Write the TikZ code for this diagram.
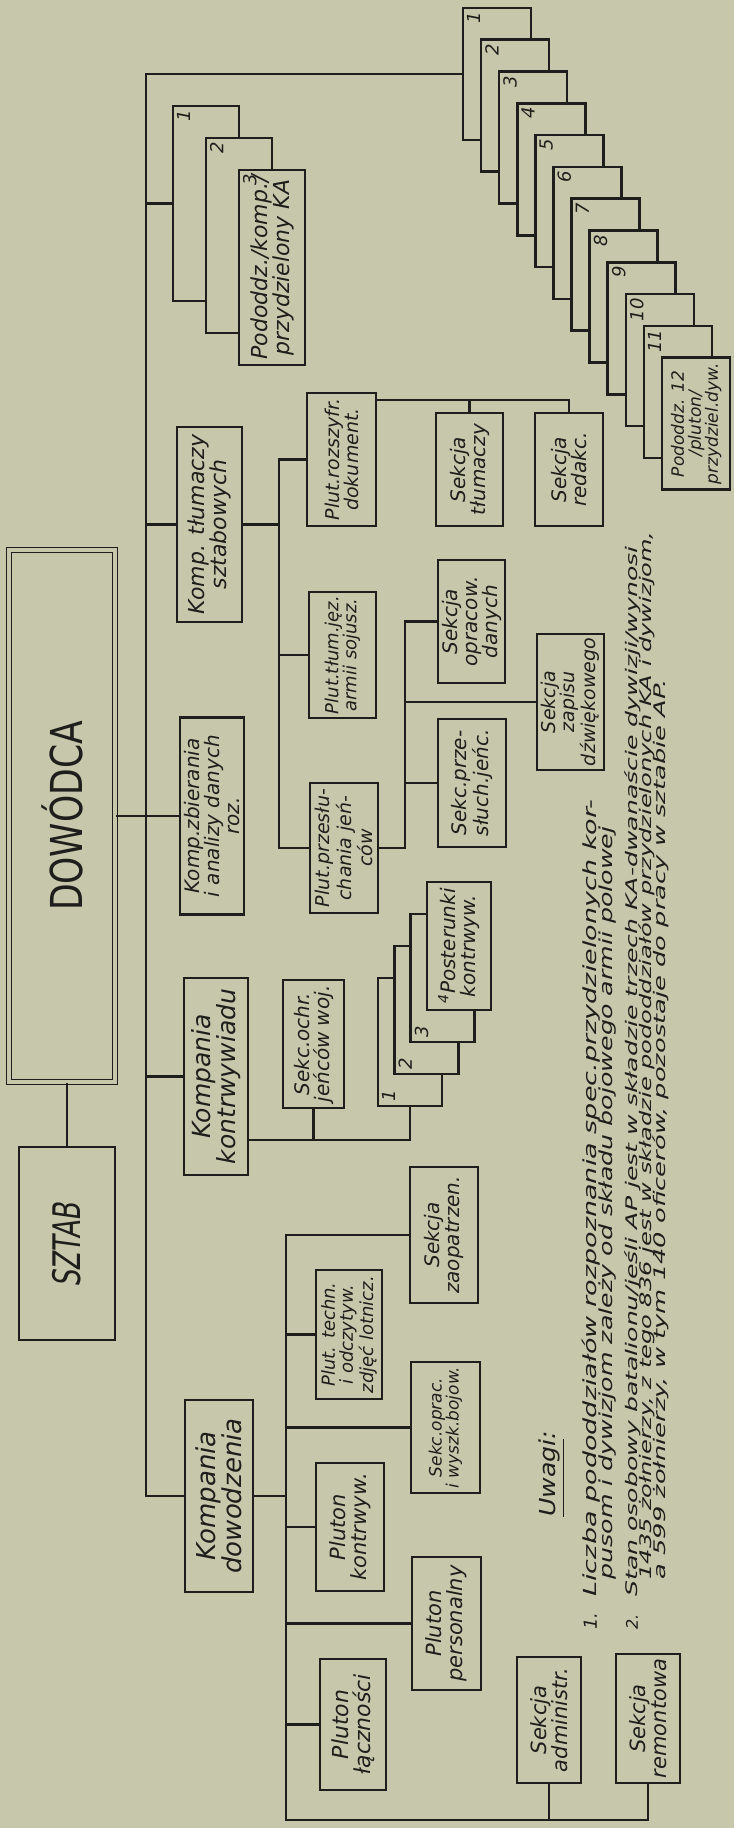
\documentclass[tikz,border=0pt]{standalone}
\usepackage{fontspec}
\setmainfont{DejaVu Sans}
\usepackage{graphicx}
\definecolor{paper}{RGB}{199,200,171}
\definecolor{ink}{RGB}{30,30,28}

\begin{document}
\begin{tikzpicture}[
    x=0.5pt, y=0.5pt, rotate=90, transform shape,
    box/.style={draw=ink, line width=1.3pt, fill=paper, text=ink, inner sep=1pt, align=center},
    sz/.style 2 args={minimum width=#1*0.5pt, minimum height=#2*0.5pt},
    fsz/.style={font=\itshape\fontsize{#1}{#1}\selectfont},
    link/.style={draw=ink, line width=1.3pt},
    num/.style={text=ink, inner sep=2.5pt, font=\itshape\fontsize{9}{9}\selectfont},
    note/.style={text=ink, inner sep=0pt, anchor=base west}
    ]

    \useasboundingbox (0,0) rectangle (1828,734);
    \fill[paper] (0,0) rectangle (1828,734);

    \node[box, sz={532}{106}, double=paper, line width=0.9pt, double distance=1.6pt,
      font=\fontsize{22}{22}\selectfont] (dow) at (1012,672) {\resizebox{95pt}{\height}{DOWÓDCA}};
    \node[box, sz={193}{96}, fsz=19] (sztab) at (584.5,667) {\resizebox{42.5pt}{\height}{SZTAB}};

    \node[box, sz={192}{68}, fsz=13] (kdow) at (332,515) {Kompania\\dowodzenia};
    \node[box, sz={197}{64}, fsz=12.5] (kont) at (751.5,518) {Kompania\\kontrwywiadu};
    \node[box, sz={197}{64}, fsz=10] (zbier) at (1012,522) {Komp.zbierania\\i analizy danych\\roz.};
    \node[box, sz={195}{65}, fsz=11] (tlum) at (1303.5,524.5) {Komp. tłumaczy\\sztabowych};

    \foreach \k in {1,2} {
      \node[box, sz={195}{66}] (pod\k) at ({1656.5-32*\k},{561-33*\k}) {};
      \node[num, anchor=north east] (podn\k) at (pod\k.north east) {\k};
    }
    \node[box, sz={195}{66}, fsz=11] (pod3) at (1560.5,462) {Pododdz./komp./\\przydzielony KA};
    \node[num, anchor=north east] (podn3) at (pod3.north east) {3};

    \foreach \k in {1,...,11} {
      \node[box, sz={132}{68}] (kart\k) at ({1754-31.8*(\k-1)},{237-18.1*(\k-1)}) {};
      \node[num, anchor=north east] (kartn\k) at (kart\k.north east) {\k};
    }
    \node[box, sz={132}{68}, fsz=8.5] (kart12) at (1404.2,37.9) {Pododdz. 12\\/pluton/\\przydziel.dyw.};

    \node[box, sz={133}{69}, fsz=9.5] (rozs) at (1368.5,392.5) {Plut.rozszyfr.\\dokument.};
    \node[box, sz={126}{67}, fsz=9] (tjez) at (1173,391.5) {Plut.tłum.jęz.\\armii sojusz.};
    \node[box, sz={130}{68}, fsz=9.5] (przes) at (980,390) {Plut.przesłu-\\chania jeń-\\ców};
    \node[box, sz={113}{67}, fsz=10] (stlum) at (1358.5,264.5) {Sekcja\\tłumaczy};
    \node[box, sz={113}{68}, fsz=10] (sred) at (1358.5,165) {Sekcja\\redakc.};
    \node[box, sz={123}{67}, fsz=10] (sopr) at (1206.5,262.5) {Sekcja\\opracow.\\danych};
    \node[box, sz={136}{67}, fsz=9.5] (szap) at (1126,163.5) {Sekcja\\zapisu\\dźwiękowego};
    \node[box, sz={128}{68}, fsz=10] (sprze) at (1045,262) {Sekc.prze-\\słuch.jeńc.};

    \node[box, sz={128}{61}, fsz=10] (ochr) at (784,420.5) {Sekc.ochr.\\jeńców woj.};
    \foreach \k in {1,2,3} {
      \node[box, sz={128}{64}] (post\k) at ({754+32*\k},{340.3-16.3*\k}) {};
      \node[num, anchor=north west] (postn\k) at (post\k.north west) {\k};
    }
    \node[box, sz={128}{64}, fsz=10] (post4) at (882,275.1) {\textsuperscript{4}Posterunki\\kontrwyw.};

    \node[box, sz={136}{68}, fsz=10] (zaop) at (593,290) {Sekcja\\zaopatrzen.};
    \node[box, sz={129}{66}, fsz=9] (techn) at (493.5,385) {Plut. techn.\\i odczytyw.\\zdjęć lotnicz.};
    \node[box, sz={131}{69}, fsz=8.5] (soprb) at (400.5,288.5) {Sekc.oprac.\\i wyszk.bojow.};
    \node[box, sz={128}{68}, fsz=10.5] (pkon) at (301,384) {Pluton\\kontrwyw.};
    \node[box, sz={133}{69}, fsz=10.5] (pper) at (204.5,287.5) {Pluton\\personalny};
    \node[box, sz={131}{66}, fsz=11] (plac) at (103.5,381) {Pluton\\łączności};
    \node[box, sz={126}{64}, fsz=10.5] (sadm) at (108,185) {Sekcja\\administr.};
    \node[box, sz={129}{64}, fsz=10.5] (srem) at (109.5,86) {Sekcja\\remontowa};

    \coordinate (spine) at (0,588);
    \draw[link] (kdow.north) |- (spine -| kart1.north) -- (kart1.north);
    \foreach \b in {kont,zbier,tlum,pod1}
      \draw[link] (\b.north) -- (\b.north |- spine);
    \draw[link] (dow.south) -- (zbier.north);
    \draw[link] (sztab.east) -- (sztab.east -| dow.west);

    \coordinate (tbar) at (0,455);
    \draw[link] (tlum.south) -- (tlum.south |- tbar);
    \draw[link] (rozs.north) |- (przes.north |- tbar) -- (przes.north);
    \draw[link] (tjez.north) -- (tjez.north |- tbar);
    \coordinate (rline) at (1428,0);
    \draw[link] (rline |- rozs.south) |- (sred.east);
    \draw[link] (rline |- stlum.east) -- (stlum.east);
    \coordinate (pbar) at (0,329);
    \draw[link] (przes.south) |- (sopr.north |- pbar) -- (sopr.north);
    \foreach \b in {sprze,szap}
      \draw[link] (\b.north |- pbar) -- (\b.north);

    \coordinate (kline) at (688,0);
    \draw[link] (kline |- kont.south) |- (post1.west);
    \draw[link] (kline |- ochr.west) -- (ochr.west);

    \coordinate (dbar) at (8,448);
    \draw[link] (kdow.south) -- (kdow.south |- dbar);
    \draw[link] (zaop.north) |- (dbar) |- (srem.west);
    \foreach \b in {techn,soprb,pkon,pper,plac}
      \draw[link] (\b.north |- dbar) -- (\b.north);
    \draw[link] (dbar |- sadm.west) -- (sadm.west);

    \node[note, fsz=11] (uwagi) at (311,178) {\resizebox{43pt}{\height}{\underline{Uwagi}:}};
    \node[note, fsz=9] (nr1) at (198,137) {1.};
    \node[note, fsz=9] (uw1) at (231,137) {\resizebox{398.5pt}{\height}{Liczba pododdziałów rozpoznania spec.przydzielonych kor-}};
    \node[note, fsz=9] (uw2) at (248,121) {\resizebox{376.5pt}{\height}{pusom i dywizjom zależy od składu bojowego armii polowej}};
    \node[note, fsz=8] (nr2) at (198,96) {2.};
    \node[note, fsz=8] (uw3) at (231,96) {\resizebox{525pt}{\height}{Stan osobowy batalionu/jeśli AP jest w składzie trzech KA-dwanaście dywizji/wynosi}};
    \node[note, fsz=8] (uw4) at (248,82) {\resizebox{524pt}{\height}{1435 żołnierzy, z tego 836 jest w składzie pododdziałów przydzielonych KA i dywizjom,}};
    \node[note, fsz=8] (uw5) at (248,68) {\resizebox{450pt}{\height}{a 599 żołnierzy, w tym 140 oficerów, pozostaje do pracy w sztabie AP.}};
\end{tikzpicture}
\end{document}
